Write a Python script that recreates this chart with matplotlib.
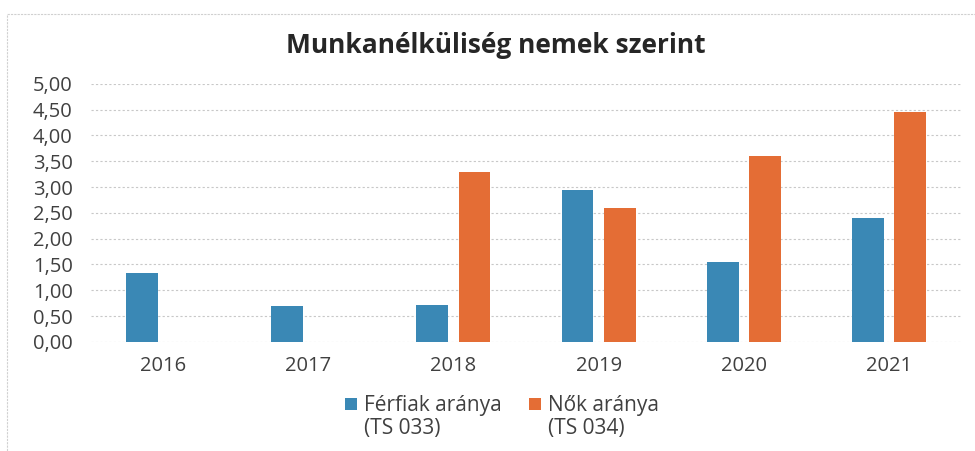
import numpy as np
import matplotlib.pyplot as plt
from matplotlib.patches import Rectangle

plt.rcParams['font.family'] = ['Open Sans', 'DejaVu Sans']

# Adatok
evek = ['2016', '2017', '2018', '2019', '2020', '2021']
ferfiak = [1.33, 0.70, 0.72, 2.95, 1.55, 2.40]
nok = [0, 0, 3.30, 2.60, 3.60, 4.45]
y_ticks = [0, 0.5, 1, 1.5, 2, 2.5, 3, 3.5, 4, 4.5, 5]

kek = '#3a88b5'
narancs = '#e46d35'

fig = plt.figure(figsize=(9.75, 4.51), dpi=100)
ax = fig.add_axes([0.093, 0.242, 0.893, 0.572])

x = np.arange(len(evek))
w = 0.22
ax.bar(x - 0.145, ferfiak, width=w, color=kek, label='Férfiak aránya', zorder=3)
ax.bar(x + 0.145, nok, width=w, color=narancs, label='Nők aránya', zorder=3)

ax.set_xlim(-0.5, len(evek) - 0.5)
ax.set_ylim(0, 5)
ax.set_yticks(y_ticks)
ax.set_yticklabels([f'{v:.2f}'.replace('.', ',') for v in y_ticks])
ax.set_xticks(x)
ax.set_xticklabels(evek)
ax.tick_params(length=0, labelsize=14.5, colors='#404040')
ax.tick_params(axis='x', pad=10)
ax.tick_params(axis='y', pad=13)
ax.grid(axis='y', color='#c8c8c8', linestyle=(0, (2, 2)), linewidth=0.8, zorder=0)
for s in ax.spines.values():
    s.set_visible(False)

fig.text(0.509, 0.90, 'Munkanélküliség nemek szerint', ha='center', va='center',
         fontsize=19, fontweight='bold', color='#262626')

leg = fig.legend(loc='upper center', bbox_to_anchor=(0.515, 0.165), ncol=2, frameon=False,
                 fontsize=15, handlelength=0.55, handleheight=0.55, handletextpad=0.35,
                 columnspacing=1.3, labelcolor='#404040')
for t, extra in zip(leg.get_texts(), ['(TS 033)', '(TS 034)']):
    fig.text(0, 0, extra, fontsize=15, color='#404040', va='top', ha='left',
             transform=fig.transFigure)
fig.canvas.draw()
r = fig.canvas.get_renderer()
for t, extra_t in zip(leg.get_texts(), fig.texts[1:]):
    bb = t.get_window_extent(r).transformed(fig.transFigure.inverted())
    extra_t.set_position((bb.x0, bb.y0 - 0.003))

# halvány keret
fig.patches.append(Rectangle((0.007, -0.05), 1.1, 1.02, transform=fig.transFigure,
                             fill=False, edgecolor='#d0d0d0', linewidth=0.8,
                             linestyle=(0, (2, 1))))

fig.savefig('out.png', dpi=100)
